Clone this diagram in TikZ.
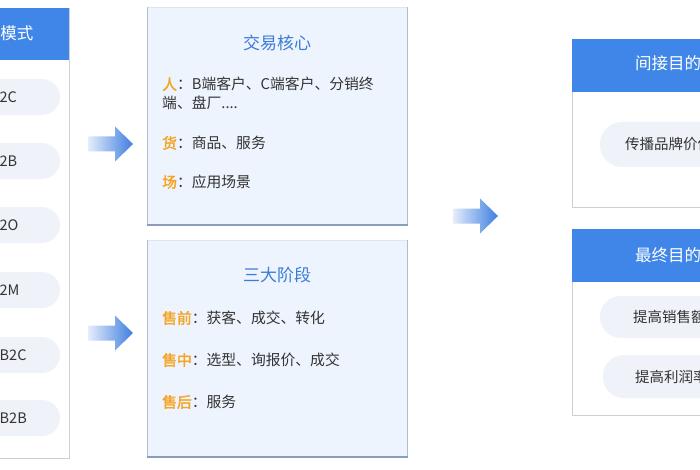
\documentclass[tikz,border=0pt]{standalone}
\usepackage{fontspec}
\setmainfont[AutoFakeBold=2]{Noto Sans CJK SC}
\definecolor{hdrblue}{HTML}{3F86E8}
\definecolor{titleblue}{HTML}{3A7CD6}
\definecolor{boxfill}{HTML}{EEF4FD}
\definecolor{boxline}{HTML}{AEBDD2}
\definecolor{boxbottom}{HTML}{8C9DBA}
\definecolor{boxtop}{HTML}{DCE5F2}
\definecolor{panelline}{HTML}{C9D0DA}
\definecolor{pillfill}{HTML}{EFF2F9}
\definecolor{txt}{HTML}{333333}
\definecolor{orng}{HTML}{F5A425}
\definecolor{arrL}{HTML}{E4EDFB}
\definecolor{arrR}{HTML}{3E7EE0}
\tikzset{
  panel/.style={draw=panelline, line width=0.9pt, fill=white},
  midfill/.style={fill=boxfill, draw=none},
  midtop/.style={draw=boxtop, line width=0.8pt},
  midside/.style={draw=boxline, line width=0.9pt},
  midbot/.style={draw=boxbottom, line width=1.3pt},
  hdr/.style={fill=hdrblue, draw=none},
  pill/.style={fill=pillfill, draw=none},
  pilltext/.style={font=\fontsize{14.5}{17}\selectfont, text=txt, inner sep=0pt, anchor=west},
  hdrtext/.style={font=\fontsize{16.5}{19}\selectfont, text=white, inner sep=0pt, anchor=west},
  midtitle/.style={font=\fontsize{17}{20}\selectfont, text=titleblue, inner sep=0pt},
  item/.style={font=\fontsize{14.8}{19}\selectfont, text=txt, inner sep=0pt, anchor=west, align=left},
  fatarrow/.pic={\shade[left color=arrL, right color=arrR] (0,-7.5) -- (27,-7.5) -- (27,-17.5) -- (45,0) -- (27,17.5) -- (27,7.5) -- (0,7.5) -- cycle;}
}
\begin{document}
\begin{tikzpicture}[x=1pt,y=-1pt]
\useasboundingbox (0,0) rectangle (700,470);
\clip (0,0) rectangle (700,470);
\fill[white] (0,0) rectangle (700,470);

% ---- left panel
\draw[panel] (-20,8) rectangle (69,458);
\fill[hdr] (-20,8) rectangle (69,60);
\node[hdrtext, anchor=east] (lhead) at (33.5,33) {模式};
\foreach \yy/\tt/\nm in {97/2C/p1,161/2B/p2,225/2O/p3,290/2M/p4,355/B2C/p5,418/B2B/p6}{
  \fill[pill, rounded corners=18pt] (-40,\yy-18) rectangle (60,\yy+18);
  \node[pilltext] (\nm) at (-0.5,\yy) {\tt};
}

% ---- arrows
\pic at (88,144) {fatarrow};
\pic at (88,333) {fatarrow};
\pic at (453,216) {fatarrow};

% ---- middle box 1
\fill[midfill] (147,7) rectangle (407,225);
\draw[midtop] (147,7) -- (407,7);
\draw[midside] (147,7) -- (147,225) (407,7) -- (407,225);
\draw[midbot] (146.5,225) -- (407.5,225);
\node[midtitle] (t1) at (277,43) {交易核心};
\node[item, anchor=north west] (i1) at (162,77) {{\color{orng}\bfseries 人}：B端客户、C端客户、分销终\\端、盘厂....};
\node[item] (i2) at (162,143) {{\color{orng}\bfseries 货}：商品、服务};
\node[item] (i3) at (162,182) {{\color{orng}\bfseries 场}：应用场景};

% ---- middle box 2
\fill[midfill] (147,240) rectangle (407,457);
\draw[midtop] (147,240) -- (407,240);
\draw[midside] (147,240) -- (147,457) (407,240) -- (407,457);
\draw[midbot] (146.5,457) -- (407.5,457);
\node[midtitle] (t2) at (277,275) {三大阶段};
\node[item] (j1) at (162,318) {{\color{orng}\bfseries 售前}：获客、成交、转化};
\node[item] (j2) at (162,360) {{\color{orng}\bfseries 售中}：选型、询报价、成交};
\node[item] (j3) at (162,402) {{\color{orng}\bfseries 售后}：服务};

% ---- right box 1
\draw[panel] (572,39) rectangle (720,207);
\fill[hdr] (572,39) rectangle (720,92);
\node[hdrtext] (r1h) at (635,63) {间接目的};
\fill[pill, rounded corners=22pt] (600,122) rectangle (740,167);
\node[pilltext] (r1a) at (625,144.5) {传播品牌价值};

% ---- right box 2
\draw[panel] (572,229) rectangle (720,415);
\fill[hdr] (572,229) rectangle (720,282);
\node[hdrtext] (r2h) at (635,255) {最终目的};
\fill[pill, rounded corners=21pt] (600,296) rectangle (740,338);
\node[pilltext] (r2a) at (633,317) {提高销售额};
\fill[pill, rounded corners=21pt] (603,355) rectangle (740,398);
\node[pilltext] (r2b) at (635,377) {提高利润率};
\end{tikzpicture}
\end{document}
